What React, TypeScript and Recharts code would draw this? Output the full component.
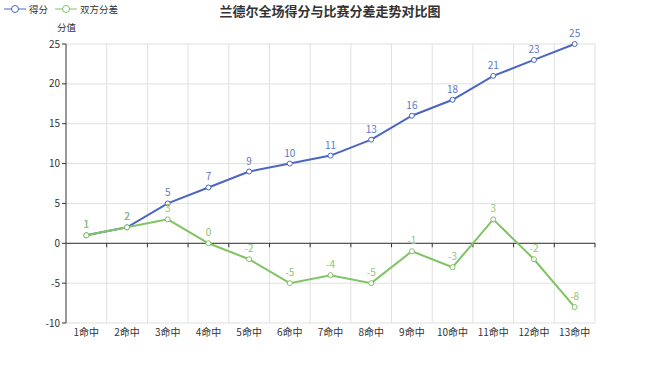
import { LineChart, Line, XAxis, YAxis, CartesianGrid, ReferenceLine, LabelList } from "recharts"

const categories = ["1命中", "2命中", "3命中", "4命中", "5命中", "6命中", "7命中", "8命中", "9命中", "10命中", "11命中", "12命中", "13命中"]
const points = [1, 2, 5, 7, 9, 10, 11, 13, 16, 18, 21, 23, 25]
const margins = [1, 2, 3, 0, -2, -5, -4, -5, -1, -3, 3, -2, -8]
const yTicks = [-10, -5, 0, 5, 10, 15, 20, 25]

const BLUE = "#4a65c3"
const GREEN = "#80c463"
const FONT = "'Noto Sans CJK SC', 'Noto Sans', sans-serif"

const data = categories.map((name, i) => ({ name, points: points[i], margin: margins[i] }))

const LegendIcon = ({ color }: { color: string }) => (
  <svg width={22} height={12} style={{ verticalAlign: "middle" }}>
    <line x1={0} y1={6} x2={22} y2={6} stroke={color} strokeWidth={1} />
    <circle cx={11} cy={6} r={3.5} fill="#fff" stroke={color} strokeWidth={1} />
  </svg>
)

// zero axis line with small ticks at the category boundaries
const ZeroAxis = (props: any) => {
  const { x1, x2, y1 } = props
  const step = (x2 - x1) / categories.length
  return (
    <g>
      <line x1={x1} y1={y1} x2={x2} y2={y1} stroke="#333" strokeWidth={1} />
      {categories.map((_, i) => (
        <line key={i} x1={x1 + (i + 1) * step} y1={y1} x2={x1 + (i + 1) * step} y2={y1 + 4} stroke="#333" strokeWidth={1} />
      ))}
    </g>
  )
}

export default function App() {
  return (
    <div style={{ position: "absolute", left: 0, top: 0, width: 660, height: 367, background: "#fff", fontFamily: FONT }}>
      <div style={{ position: "absolute", top: 1, left: 0, width: 660, textAlign: "center", fontSize: 13, fontWeight: "bold", color: "#333" }}>
        兰德尔全场得分与比赛分差走势对比图
      </div>
      <div style={{ position: "absolute", top: 2, left: 4, fontSize: 9.5, color: "#333", display: "flex", alignItems: "center" }}>
        <LegendIcon color={BLUE} />
        <span style={{ marginLeft: 3, marginRight: 7 }}>得分</span>
        <LegendIcon color={GREEN} />
        <span style={{ marginLeft: 3 }}>双方分差</span>
      </div>
      <div style={{ position: "absolute", top: 20, left: 57, fontSize: 9.5, color: "#333" }}>分值</div>
      <LineChart width={660} height={367} data={data} margin={{ top: 44, right: 65, left: 0, bottom: 24 }}>
        <CartesianGrid
          stroke="#e0e0e0"
          verticalCoordinatesGenerator={({ offset }: any) =>
            categories.map((_, i) => offset.left + ((i + 1) * offset.width) / categories.length)
          }
        />
        <XAxis
          dataKey="name"
          scale="band"
          axisLine={false}
          tickLine={false}
          height={20}
          interval={0}
          tick={{ fontSize: 10, fill: "#333", fontFamily: FONT }}
          tickMargin={0}
        />
        <YAxis
          width={66}
          domain={[-10, 25]}
          ticks={yTicks}
          interval={0}
          axisLine={{ stroke: "#333" }}
          tickLine={{ stroke: "#333" }}
          tickSize={4}
          tick={{ fontSize: 10, fill: "#333", fontFamily: FONT }}
        />
        <ReferenceLine y={0} stroke="#333" shape={ZeroAxis} />
        <Line
          type="linear"
          dataKey="points"
          stroke={BLUE}
          strokeWidth={2}
          dot={{ r: 2.5, fill: "#fff", stroke: BLUE, strokeWidth: 1 }}
          isAnimationActive={false}
        >
          <LabelList dataKey="points" position="top" offset={7} fill="#5a78c8" fontSize={10} fontFamily={FONT} />
        </Line>
        <Line
          type="linear"
          dataKey="margin"
          stroke={GREEN}
          strokeWidth={2}
          dot={{ r: 2.5, fill: "#fff", stroke: GREEN, strokeWidth: 1 }}
          isAnimationActive={false}
        >
          <LabelList dataKey="margin" position="top" offset={7} fill="#8cc870" fontSize={10} fontFamily={FONT} />
        </Line>
      </LineChart>
    </div>
  )
}
